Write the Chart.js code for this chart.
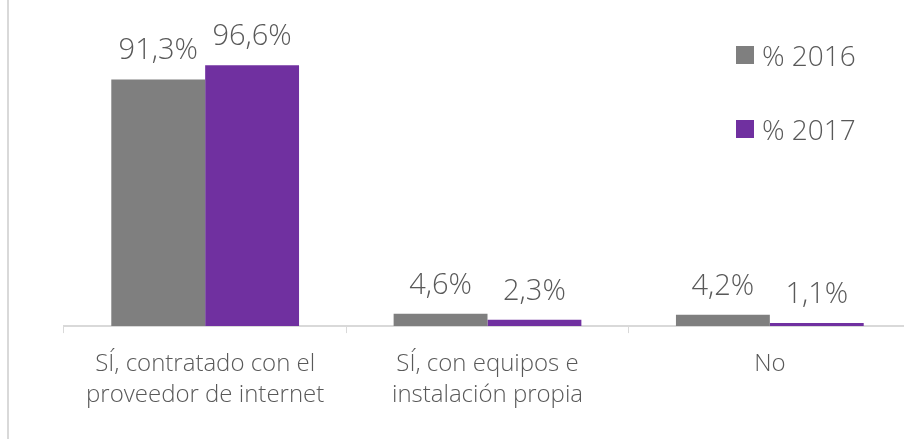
<!DOCTYPE html>
<html>
<head>
<meta charset="utf-8">
<script src="https://cdn.jsdelivr.net/npm/chart.js@4/dist/chart.umd.min.js"></script>
<style>
  body { margin: 0; width: 904px; height: 439px; overflow: hidden; background: #fff; position: relative;
         font-family: 'Open Sans', 'DejaVu Sans', sans-serif; }
  #wrap { position: absolute; left: 0; top: 0; width: 920px; height: 439px; }
  .frame { position: absolute; left: 7px; top: 0; width: 2px; height: 439px; background: #d9d9d9; }
  #legend { position: absolute; left: 736px; top: 36px; }
  #legend div { display: flex; align-items: center; height: 38px; margin-bottom: 36px;
                font-size: 28px; font-weight: 300; color: #595959; }
  #legend span { display: inline-block; width: 18px; height: 18px; margin-right: 8px; }
</style>
</head>
<body>
<div id="wrap"><canvas id="c" width="920" height="439"></canvas></div>
<div class="frame"></div>
<div id="legend"></div>
<script>
const categories = [['SÍ, contratado con el', 'proveedor de internet'], ['SÍ, con equipos e', 'instalación propia'], 'No'];
const seriesNames = ['% 2016', '% 2017'];
const values2016 = [91.3, 4.6, 4.2];
const values2017 = [96.6, 2.3, 1.1];
const colors = ['#7f7f7f', '#7030a0'];

const textColor = '#595959';
const fontFamily = "'Open Sans', 'DejaVu Sans', sans-serif";

// value labels above each bar
const barLabels = {
  id: 'barLabels',
  afterDatasetsDraw(chart) {
    const ctx = chart.ctx;
    ctx.save();
    ctx.font = '300 29px ' + fontFamily;
    ctx.fillStyle = textColor;
    ctx.textAlign = 'center';
    ctx.textBaseline = 'alphabetic';
    chart.data.datasets.forEach((ds, i) => {
      chart.getDatasetMeta(i).data.forEach((bar, j) => {
        const txt = ds.data[j].toFixed(1).replace('.', ',') + '%';
        ctx.fillText(txt, bar.x, bar.y - 20);
      });
    });
    ctx.restore();
  }
};

const chart = new Chart(document.getElementById('c'), {
  type: 'bar',
  data: {
    labels: categories,
    datasets: [
      { label: seriesNames[0], data: values2016, backgroundColor: colors[0] },
      { label: seriesNames[1], data: values2017, backgroundColor: colors[1] }
    ]
  },
  options: {
    responsive: false,
    animation: false,
    devicePixelRatio: 1,
    layout: { padding: { left: 64, right: 9, top: 56, bottom: 12 } },
    datasets: { bar: { barPercentage: 1, categoryPercentage: 0.665 } },
    plugins: { legend: { display: false }, tooltip: { enabled: false } },
    scales: {
      x: {
        grid: { drawOnChartArea: false, tickLength: 7, color: '#d9d9d9', lineWidth: 1 },
        border: { color: '#d9d9d9', width: 2 },
        ticks: {
          color: textColor,
          padding: 16,
          maxRotation: 0,
          font: { family: fontFamily, size: 24, weight: '300', lineHeight: 1.29 }
        }
      },
      y: { display: false, min: 0, max: 100 }
    }
  },
  plugins: [barLabels]
});

// legend
const legend = document.getElementById('legend');
chart.data.datasets.forEach(ds => {
  const row = document.createElement('div');
  const sw = document.createElement('span');
  sw.style.background = ds.backgroundColor;
  row.appendChild(sw);
  row.appendChild(document.createTextNode(ds.label));
  legend.appendChild(row);
});
</script>
</body>
</html>
